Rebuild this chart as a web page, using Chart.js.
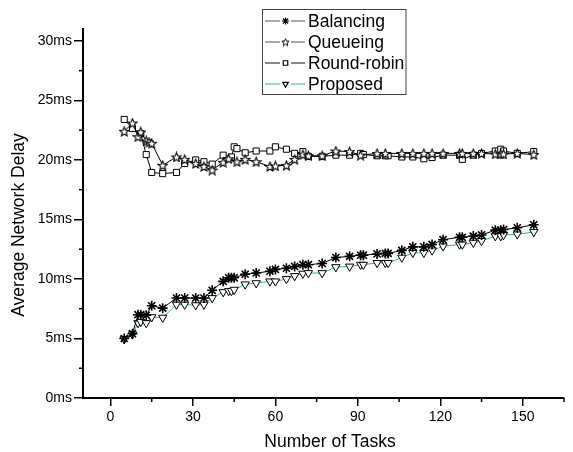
<!DOCTYPE html>
<html><head><meta charset="utf-8">
<script src="https://cdn.jsdelivr.net/npm/chart.js@4/dist/chart.umd.min.js"></script>
<style>html,body{margin:0;padding:0;background:#fff}#wrap{width:573px;height:452px}</style>
</head><body><div id="wrap"><canvas id="c" width="573" height="452"></canvas></div>
<script>
// ---- data ----
const seriesNames = ['Balancing', 'Queueing', 'Round-robin', 'Proposed'];
const xTitle = 'Number of Tasks';
const yTitle = 'Average Network Delay';

const balancingTasks = [5,8,10,11,13,15,19,24,27,31,34,37,41,43,44,45,49,53,58,60,64,67,70,72,77,82,87,91,92,97,100,101,106,110,114,117,121,127,128,132,135,140,142,143,148,154];
const balancingDelay = [5.0,5.4,7.0,7.0,6.95,7.75,7.55,8.4,8.4,8.4,8.4,9.05,9.8,10.1,10.1,10.1,10.4,10.5,10.65,10.8,10.9,11.05,11.2,11.2,11.3,11.8,11.9,12.0,12.0,12.1,12.15,12.15,12.4,12.7,12.7,12.9,13.3,13.5,13.5,13.6,13.7,14.1,14.1,14.15,14.3,14.55];

const proposedTasks = [5,8,10,11,13,15,19,24,27,31,34,37,41,43,44,45,49,53,58,60,64,67,70,72,77,82,87,91,92,97,100,101,106,110,114,117,121,127,128,132,135,140,142,143,148,154];
const proposedDelay = [4.95,5.35,6.3,6.4,6.3,6.8,6.75,7.85,7.85,7.8,7.85,8.4,8.9,9.0,9.0,9.1,9.55,9.65,9.8,9.8,10.0,10.25,10.45,10.5,10.5,11.0,11.05,11.2,11.2,11.35,11.35,11.35,11.8,12.2,12.2,12.4,12.75,12.9,12.9,13.05,13.2,13.6,13.6,13.7,13.75,13.95];

const queueingTasks = [5,8,10,11,13,14,15,19,24,27,31,34,37,41,43,46,49,53,58,60,64,67,70,72,77,82,87,91,97,100,106,110,114,117,121,127,128,132,135,140,142,143,148,154];
const queueingDelay = [22.4,23.1,21.95,22.35,21.6,21.5,21.4,19.55,20.25,20.05,19.7,19.45,19.15,19.8,20.1,19.85,20.05,19.85,19.45,19.5,19.55,20.05,20.45,20.35,20.35,20.75,20.7,20.4,20.55,20.55,20.55,20.55,20.55,20.55,20.55,20.55,20.55,20.55,20.55,20.5,20.5,20.5,20.55,20.45];

const roundRobinTasks = [5,8,11,13,15,19,24,27,31,34,37,41,44,45,46,49,53,58,60,64,67,70,72,77,82,87,91,92,97,100,101,106,110,114,117,121,127,128,132,135,140,142,143,148,154];
const roundRobinDelay = [23.4,22.65,22.2,20.45,18.95,18.85,18.95,19.7,20.0,19.85,19.65,20.4,20.25,21.1,20.95,20.6,20.75,20.75,21.1,20.9,20.55,20.7,20.3,20.3,20.4,20.4,20.55,20.45,20.35,20.35,20.35,20.25,20.25,20.1,20.2,20.4,20.4,20.05,20.4,20.55,20.75,20.9,20.75,20.55,20.7];

const xTicks = [0, 30, 60, 90, 120, 150];
const xTickLabels = ['0', '30', '60', '90', '120', '150'];
const xMinorTicks = [15, 45, 75, 105, 135, 165];
const yTicks = [0, 5, 10, 15, 20, 25, 30];
const yTickLabels = ['0ms', '5ms', '10ms', '15ms', '20ms', '25ms', '30ms'];
const yMinorTicks = [2.5, 7.5, 12.5, 17.5, 22.5, 27.5];

// ---- styles ----
const FONT = 'Liberation Sans, Arial, sans-serif';
const TEAL = '#3aa8a8';

function makeStar(size, lw) {
  const c = document.createElement('canvas');
  c.width = size; c.height = size;
  const g = c.getContext('2d');
  const cx = size / 2, cy = size / 2 + 0.5, R = size / 2 - 0.7, r = R * 0.45;
  g.beginPath();
  for (let i = 0; i < 10; i++) {
    const a = -Math.PI / 2 + i * Math.PI / 5;
    const rr = i % 2 ? r : R;
    const px = cx + rr * Math.cos(a), py = cy + rr * Math.sin(a);
    i ? g.lineTo(px, py) : g.moveTo(px, py);
  }
  g.closePath();
  g.fillStyle = '#fff'; g.fill();
  g.strokeStyle = '#000'; g.lineWidth = lw; g.stroke();
  return c;
}
const starImg = makeStar(11, 1.1);
const starSmall = makeStar(9, 1);

const pts = (xs, ys) => xs.map((x, i) => ({ x: x, y: ys[i] }));

const datasets = [
  { label: seriesNames[0], data: pts(balancingTasks, balancingDelay), borderColor: '#000', borderWidth: 1,
    pointStyle: 'star', pointRadius: 5, pointBorderWidth: 1.6, pointBorderColor: '#000', pointBackgroundColor: 'rgba(0,0,0,0)', legendColor: '#555' },
  { label: seriesNames[1], data: pts(queueingTasks, queueingDelay), borderColor: '#000', borderWidth: 1,
    pointStyle: starImg, pointRadius: 5, legendColor: '#555', legendImg: starSmall },
  { label: seriesNames[2], data: pts(roundRobinTasks, roundRobinDelay), borderColor: '#000', borderWidth: 1,
    pointStyle: 'rect', pointRadius: 4.3, pointBorderWidth: 1, pointBorderColor: '#000', pointBackgroundColor: '#fff', legendColor: '#111' },
  { label: seriesNames[3], data: pts(proposedTasks, proposedDelay), borderColor: TEAL, borderWidth: 1,
    pointStyle: 'triangle', pointRotation: 180, pointRadius: 4.8, pointBorderWidth: 1, pointBorderColor: '#000', pointBackgroundColor: '#fff', legendColor: TEAL }
];

const extras = {
  id: 'extras',
  afterDraw(chart) {
    const ctx = chart.ctx;
    const xs = chart.scales.x, ys = chart.scales.y;
    ctx.save();
    ctx.strokeStyle = '#000'; ctx.lineWidth = 1.5;
    // minor ticks
    xMinorTicks.forEach(v => {
      const px = xs.getPixelForValue(v);
      ctx.beginPath(); ctx.moveTo(px, xs.top); ctx.lineTo(px, xs.top + 4); ctx.stroke();
    });
    yMinorTicks.forEach(v => {
      const py = ys.getPixelForValue(v);
      ctx.beginPath(); ctx.moveTo(ys.right, py); ctx.lineTo(ys.right - 4, py); ctx.stroke();
    });
    // axis titles
    ctx.fillStyle = '#000'; ctx.font = '17.5px ' + FONT;
    ctx.textAlign = 'center'; ctx.textBaseline = 'middle';
    ctx.fillText(xTitle, 330, 442);
    ctx.save();
    ctx.translate(19, 225); ctx.rotate(-Math.PI / 2);
    ctx.fillText(yTitle, 0, 0);
    ctx.restore();
    // legend box
    const L = 262.5, T = 9.5, W = 143.5, H = 85;
    ctx.fillStyle = '#fff'; ctx.fillRect(L, T, W, H);
    ctx.strokeStyle = '#444'; ctx.lineWidth = 1; ctx.strokeRect(L, T, W, H);
    chart.data.datasets.forEach((ds, i) => {
      const y = 21 + i * 21;
      ctx.strokeStyle = ds.legendColor; ctx.lineWidth = 1.2;
      ctx.beginPath(); ctx.moveTo(265, y); ctx.lineTo(280, y); ctx.moveTo(291, y); ctx.lineTo(305, y); ctx.stroke();
      ctx.fillStyle = '#fff'; ctx.strokeStyle = '#000';
      Chart.helpers.drawPoint(ctx, {
        pointStyle: ds.legendImg || ds.pointStyle, radius: ds.pointStyle === 'star' ? 3.6 : 3.2, borderWidth: 1,
        rotation: ds.pointRotation || 0
      }, 285.5, y);
      ctx.fillStyle = '#000'; ctx.font = '17.5px ' + FONT;
      ctx.textBaseline = 'middle'; ctx.textAlign = 'left';
      ctx.fillText(ds.label, 308, y + 1);
    });
    ctx.restore();
  }
};

new Chart(document.getElementById('c'), {
  type: 'line',
  data: { datasets },
  options: {
    responsive: false, animation: false, devicePixelRatio: 1,
    layout: { padding: { left: 0, top: 29, right: 9, bottom: 0 } },
    plugins: { legend: { display: false }, tooltip: { enabled: false } },
    elements: { line: { tension: 0 } },
    scales: {
      x: {
        type: 'linear', min: -10, max: 165,
        afterBuildTicks: s => { s.ticks = xTicks.map(v => ({ value: v })); },
        afterFit: s => { s.height = 54; },
        grid: { display: true, drawOnChartArea: false, drawTicks: true, tickLength: 8, color: '#000', lineWidth: 1.5 },
        border: { display: true, color: '#000', width: 2 },
        ticks: { color: '#000', font: { family: FONT, size: 14 }, padding: 3, maxRotation: 0, autoSkip: false,
          callback: v => xTickLabels[xTicks.indexOf(v)] },
        title: { display: false }
      },
      y: {
        type: 'linear', min: 0, max: 31,
        afterBuildTicks: s => { s.ticks = yTicks.map(v => ({ value: v })); },
        afterFit: s => { s.width = 83; },
        grid: { display: true, drawOnChartArea: false, drawTicks: true, tickLength: 9, color: '#000', lineWidth: 1.5 },
        border: { display: true, color: '#000', width: 2 },
        ticks: { color: '#000', font: { family: FONT, size: 14 }, padding: 2, autoSkip: false,
          callback: v => yTickLabels[yTicks.indexOf(v)] },
        title: { display: false }
      }
    }
  },
  plugins: [extras]
});
</script></body></html>
